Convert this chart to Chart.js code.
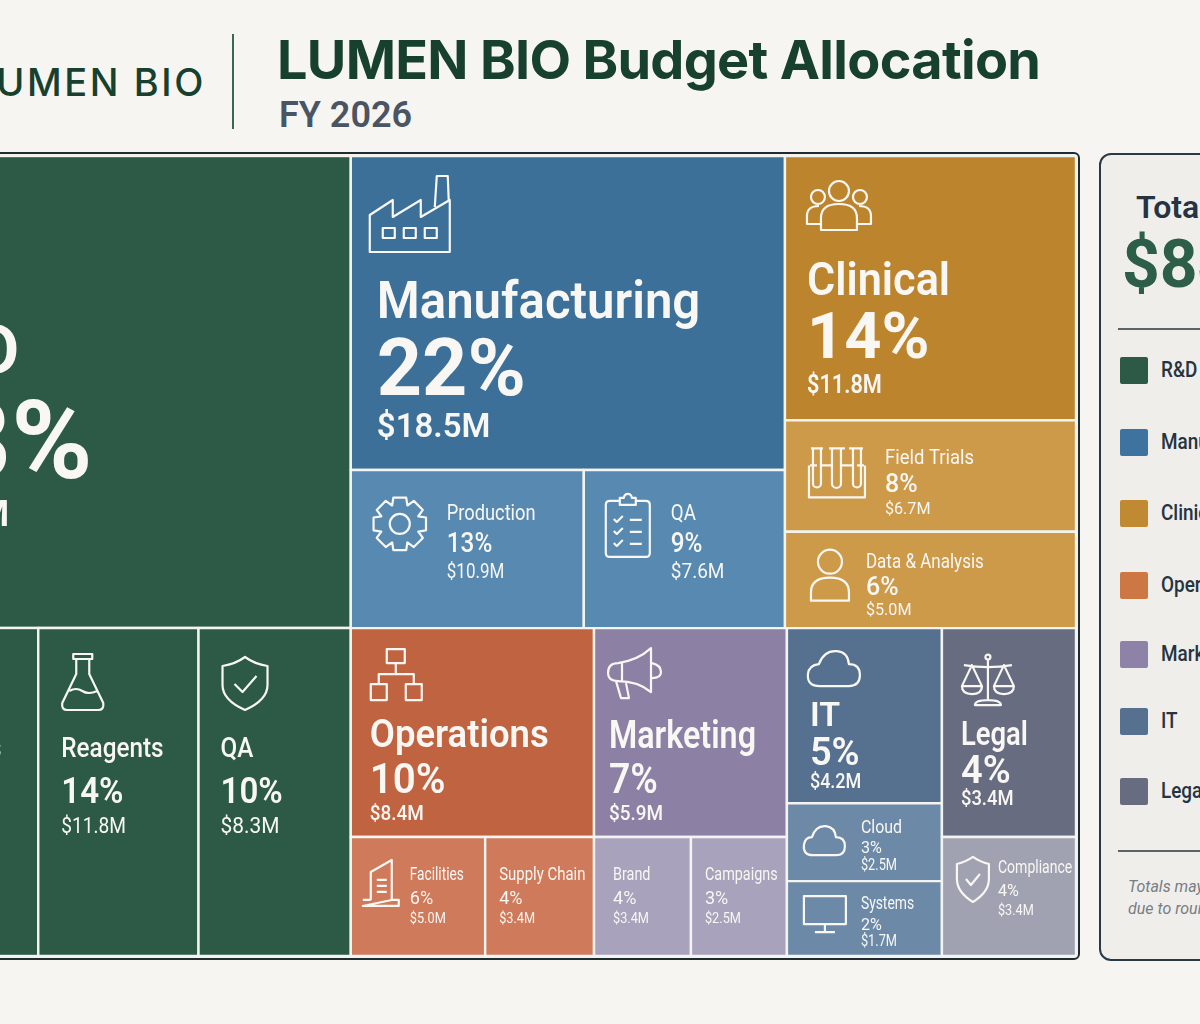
<!DOCTYPE html>
<html>
<head>
<meta charset="utf-8">
<title>LUMEN BIO Budget Allocation</title>
<script src="https://cdn.jsdelivr.net/npm/chart.js@4/dist/chart.umd.min.js"></script>
<style>
  html, body { margin: 0; padding: 0; width: 1200px; height: 1024px; overflow: hidden; background: #f7f5f2; font-family: Inter, sans-serif; }
  .abs { position: absolute; white-space: nowrap; }
  #logo { right: 994px; top: 58px; font: 500 38px/48px Inter; letter-spacing: 2.6px; color: #17402f; }
  #rule { left: 232px; top: 34px; width: 2px; height: 95px; background: #3e6657; }
  #title { left: 277px; top: 26px; font: 700 54px/68px Inter; letter-spacing: -0.7px; color: #17402f; }
  #sub { left: 279px; top: 92px; font: 600 36px/46px Roboto; color: #4a5563; }
  #frame { left: -130px; top: 152px; width: 1206px; height: 804px; border: 2.5px solid #1f2d33; border-radius: 6px; background: #f4f3ef; }
  #treemap { position: absolute; left: -122px; top: 156px; }
  #panel { left: 1099px; top: 153px; width: 300px; height: 804px; border: 2px solid #2a3a44; border-radius: 12px; background: #efeeeb; }
  #total { left: 1136px; top: 187px; font: 600 32px/40px Roboto; color: #263340; }
  #amount { left: 1122px; top: 227px; font: 700 66px/76px Roboto; color: #2d5e48; }
  .hr { left: 1118px; width: 200px; height: 1.5px; background: #59636a; }
  .swatch { left: 1120px; width: 28px; height: 27px; border-radius: 2px; }
  .key { left: 1161px; font: 500 22px/28px Roboto; color: #263340; transform: scaleX(0.86); transform-origin: left center; }
  .note { left: 1128px; font: italic 400 16px/20px Roboto; color: #777d85; }
</style>
</head>
<body>
<div class="abs" id="logo">LUMEN BIO</div>
<div class="abs" id="rule"></div>
<div class="abs" id="title">LUMEN BIO Budget Allocation</div>
<div class="abs" id="sub">FY 2026</div>
<div class="abs" id="frame"></div>
<canvas id="treemap" width="1198" height="800"></canvas>
<div class="abs" id="panel"></div>
<div class="abs" id="total">Total Budget</div>
<div class="abs" id="amount">$84M</div>
<div class="abs hr" style="top:328px"></div>
<div class="abs hr" style="top:850px"></div>
<div class="abs note" style="top:877px">Totals may not sum</div>
<div class="abs note" style="top:899px">due to rounding</div>
<script>
// budget data
const groupNames = ['R&D', 'Manufacturing', 'Clinical', 'Operations', 'Marketing', 'IT', 'Legal'];
const groupPct = [38, 22, 14, 10, 7, 5, 4];
const groupMillions = [31.9, 18.5, 11.8, 8.4, 5.9, 4.2, 3.4];

const rdNames = ['Biologics', 'Reagents', 'QA'];
const rdPct = [14, 14, 10];
const rdMillions = [11.8, 11.8, 8.3];
const mfgNames = ['Production', 'QA'];
const mfgPct = [13, 9];
const mfgMillions = [10.9, 7.6];
const clinicalNames = ['Field Trials', 'Data & Analysis'];
const clinicalPct = [8, 6];
const clinicalMillions = [6.7, 5.0];
const opsNames = ['Facilities', 'Supply Chain'];
const opsPct = [6, 4];
const opsMillions = [5.0, 3.4];
const mktNames = ['Brand', 'Campaigns'];
const mktPct = [4, 3];
const mktMillions = [3.4, 2.5];
const itNames = ['Cloud', 'Systems'];
const itPct = [3, 2];
const itMillions = [2.5, 1.7];
const legalNames = ['Compliance'];
const legalPct = [4];
const legalMillions = [3.4];

const childNames = [rdNames, mfgNames, clinicalNames, opsNames, mktNames, itNames, legalNames];
const childPct = [rdPct, mfgPct, clinicalPct, opsPct, mktPct, itPct, legalPct];
const childMillions = [rdMillions, mfgMillions, clinicalMillions, opsMillions, mktMillions, itMillions, legalMillions];

// colours
const headColors = ['#2c5a46', '#3c7099', '#bd842e', '#c06340', '#8d80a5', '#56718f', '#686c80'];
const childColors = ['#2c5a46', '#5889b0', '#cd9a4a', '#cf7a5a', '#a8a2bd', '#6c8aa7', '#a0a2b2'];
const keyColors = ['#2c5a46', '#3f739f', '#c08a33', '#cc7744', '#8f82a8', '#56718f', '#686c80'];
const keyTops = [357, 429, 500, 572, 641, 708, 778];

// treemap layout settings: how hard each split follows the values
const rootPower = 0.874, rowPower = 1.12, topRowPower = 0.885, bottomRowPower = 0.65;
const headShare = [0.59, 0.665, 0.56, 0.637, 0.637, 0.534, 0.637];
const childAxis = ['x', 'x', 'y', 'x', 'x', 'y', 'y'];
const childPower = [0.152, 0.4, 0.5, 0.52, 0.035, 0.097, 1];

function split(box, axis, values, power) {
  const w = values.map(v => Math.pow(v, power));
  const total = w.reduce((a, b) => a + b, 0);
  const length = axis === 'x' ? box.x1 - box.x0 : box.y1 - box.y0;
  let at = axis === 'x' ? box.x0 : box.y0;
  return w.map(v => {
    const size = length * v / total;
    const out = axis === 'x' ? {...box, x0: at, x1: at + size} : {...box, y0: at, y1: at + size};
    at += size;
    return out;
  });
}

function buildCells() {
  const sum = a => a.reduce((p, q) => p + q, 0);
  const [rdBox, restBox] = split({x0: 0, x1: 100, y0: 0, y1: 100}, 'x', [groupPct[0], sum(groupPct.slice(1))], rootPower);
  const [topBox, bottomBox] = split(restBox, 'y', [sum(groupPct.slice(1, 3)), sum(groupPct.slice(3))], rowPower);
  const boxes = [rdBox]
    .concat(split(topBox, 'x', groupPct.slice(1, 3), topRowPower))
    .concat(split(bottomBox, 'x', groupPct.slice(3), bottomRowPower));
  const cells = [];
  boxes.forEach((box, g) => {
    const cut = box.y0 + (box.y1 - box.y0) * headShare[g];
    cells.push({...box, y1: cut, name: groupNames[g], pct: groupPct[g], money: groupMillions[g], color: headColors[g], key: 'g' + g});
    split({...box, y0: cut}, childAxis[g], childPct[g], childPower[g]).forEach((b, i) => {
      cells.push({...b, name: childNames[g][i], pct: childPct[g][i], money: childMillions[g][i], color: childColors[g], key: 'c' + g + '_' + i});
    });
  });
  return cells;
}

// text placement per cell: text left, icon left/top, baselines, font sizes, weights, squeeze of each line
const S = {
  g0: {tx: 1, nudge: [5, 6, 3], ys: [218, 322, 370], fs: [70, 110, 37], w: [600, 700, 600], sq: [1, 1, 1]},
  g1: {tx: 26, ys: [162, 239, 281], fs: [52, 79, 33], w: [600, 700, 600], sq: [0.945, 1, 1], icon: 'factory', ix: 19, iy: 20},
  g2: {tx: 22, ys: [139, 202, 237], fs: [47, 65, 25], w: [600, 700, 600], sq: [0.92, 1, 0.87], icon: 'people', ix: 21, iy: 24},
  g3: {tx: 19, ys: [119, 165, 192], fs: [38, 42, 21], w: [600, 600, 500], sq: [0.96, 0.96, 0.9], icon: 'org', ix: 20, iy: 21},
  g4: {tx: 15, ys: [120, 165, 192], fs: [38, 42, 21], w: [600, 600, 500], sq: [0.85, 0.89, 0.9], icon: 'megaphone', ix: 14, iy: 20},
  g5: {tx: 23, ys: [98, 137, 160], fs: [34, 38, 20], w: [600, 600, 500], sq: [1, 1, 0.9], icon: 'cloud', ix: 20, iy: 22},
  g6: {tx: 19, ys: [117, 155, 177], fs: [33, 38, 20], w: [600, 600, 500], sq: [0.83, 1, 0.92], icon: 'scales', ix: 19, iy: 26},
  c0_0: {tx: 23, ys: [129, 175, 205], fs: [27, 36, 22], w: [500, 600, 400], sq: [0.9, 0.92, 0.87], icon: 'flask', ix: 23, iy: 26},
  c0_1: {tx: 23, ys: [129, 175, 205], fs: [27, 36, 22], w: [500, 600, 400], sq: [0.9, 0.92, 0.87], icon: 'flask', ix: 23, iy: 26},
  c0_2: {tx: 22, ys: [129, 175, 205], fs: [27, 36, 22], w: [500, 600, 400], sq: [0.9, 0.92, 0.95], icon: 'shield', ix: 24, iy: 29},
  c1_0: {tx: 96, ys: [50, 82, 108], fs: [22, 27, 20], w: [400, 500, 400], sq: [0.83, 0.9, 0.85], icon: 'gear', ix: 22, iy: 27},
  c1_1: {tx: 87, ys: [50, 82, 108], fs: [22, 27, 20], w: [400, 500, 400], sq: [0.85, 0.9, 0.95], icon: 'clipboard', ix: 22, iy: 23},
  c2_0: {tx: 100, ys: [44, 72, 94], fs: [21, 25, 17], w: [400, 500, 400], sq: [0.88, 1, 0.95], icon: 'tubes', ix: 24, iy: 27},
  c2_1: {tx: 81, ys: [36, 63, 83], fs: [21, 25, 17], w: [400, 500, 400], sq: [0.81, 1, 0.95], icon: 'person', ix: 25, iy: 18},
  c3_0: {tx: 59, ys: [43, 67, 86], fs: [18, 19, 15], w: [400, 400, 400], sq: [0.76, 0.95, 0.85], icon: 'building', ix: 12, iy: 23},
  c3_1: {tx: 14, ys: [43, 67, 86], fs: [18, 19, 15], w: [400, 400, 400], sq: [0.83, 0.95, 0.85]},
  c4_0: {tx: 19, ys: [43, 67, 86], fs: [18, 19, 15], w: [400, 400, 400], sq: [0.8, 0.95, 0.85]},
  c4_1: {tx: 14, ys: [43, 67, 86], fs: [18, 19, 15], w: [400, 400, 400], sq: [0.8, 0.95, 0.85]},
  c5_0: {tx: 74, ys: [30, 50, 67], fs: [19, 17, 16], w: [400, 400, 400], sq: [0.84, 0.95, 0.8], icon: 'cloudSmall', ix: 16, iy: 22},
  c5_1: {tx: 74, ys: [28, 49, 65], fs: [19, 17, 16], w: [400, 400, 400], sq: [0.73, 0.95, 0.8], icon: 'monitor', ix: 17, iy: 15},
  c6_0: {tx: 56, ys: [36, 59, 78], fs: [18, 17, 15], w: [400, 400, 400], sq: [0.78, 0.95, 0.85], icon: 'shieldSmall', ix: 15, iy: 20}
};

const ICONS = {
  factory: 'M0 76V39L23 24V41L51 24V41L80 24V76Z M65 31L67 0H78L79 26 M13 52h12v10h-12z M34 52h12v10h-12z M55 52h12v10h-12z',
  people: 'M43 11a10 10 0 1 1-20 0a10 10 0 1 1 20 0 M19 17a7 7 0 1 1-14 0a7 7 0 1 1 14 0 M61 17a7 7 0 1 1-14 0a7 7 0 1 1 14 0 M15 50V38Q15 24 33 24Q51 24 51 38V50Z M15 44H1V36Q1 26 13 26 M51 44H65V36Q65 26 53 26',
  org: 'M16 0h18v14h-18z M0 35h16v16h-16z M35 35h16v16h-16z M25 14V25 M8 35V25H43V35',
  megaphone: 'M43 0Q30 12 10 15Q0 15 0 25Q0 33 10 33Q30 33 43 44Z M14 15V33 M8 33L13 50H21L18 35 M44 15Q53 17 53 24Q53 30 44 30',
  cloud: 'M13 36Q0 36 1 24Q2 15 12 14Q17 0 30 1Q41 2 42 14Q53 14 53 25Q53 36 42 36Z',
  cloudSmall: 'M10 30Q0 30 1 20Q2 12 9 12Q13 0 23 1Q32 2 33 12Q42 12 42 21Q42 30 33 30Z',
  scales: 'M27 5V46 M14 51H40Q40 46 27 46Q14 46 14 51Z M3 11Q27 15 51 11 M29.5 3a2.5 2.5 0 1 1-5 0a2.5 2.5 0 1 1 5 0 M11 11L1 32Q1 40 11 40Q21 40 21 32Z M1 32H21 M43 11L33 32Q33 40 43 40Q53 40 53 32Z M33 32H53',
  flask: 'M12 0h19v5h-19z M15 5V20L1 49Q0 56 6 56H37Q43 56 42 49L28 20V5 M8 37Q15 33 21 37T36 37',
  shield: 'M22.5 0Q32 7 45 9V28Q45 43 22.5 53Q0 43 0 28V9Q13 7 22.5 0Z M12 27L20 35L34 19',
  shieldSmall: 'M16 0Q23 5 32 7V22Q32 35 16 45Q0 35 0 22V7Q9 5 16 0Z M9 22L14 28L23 17',
  clipboard: 'M14 8H4Q0 8 0 12V60Q0 64 4 64H40Q44 64 44 60V12Q44 8 40 8H30 M14 12V5H18A4 4 0 0 1 26 5H30V12Z M8 26l3 3l6-6 M24 27H36 M8 38l3 3l6-6 M24 39H36 M8 50l3 3l6-6 M24 51H36',
  tubes: 'M0 18V50H56V18 M1 18H8 M48 18H55 M2 1H14 M4 1V36A4 4 0 0 0 12 36V1 M20 1H36 M23 1V36A4 4 0 0 0 32 36V1 M40 1H54 M44 1V36A4 4 0 0 0 52 36V1 M12 18H23 M32 18H44',
  person: 'M32 12a12 12 0 1 1-24 0a12 12 0 1 1 24 0 M1 51V43Q1 28 20 28Q39 28 39 43V51Z',
  building: 'M8 40V12L29 0V40 M0 40H8 M29 40H36V46H0Z M14 20H24 M14 26H24 M14 32H24',
  monitor: 'M0 0H42V28H0Z M21 28V36 M11 36H31'
};

function drawGear(ctx, x, y) {
  // eight teeth around a ring
  const cx = x + 27, cy = y + 27;
  ctx.beginPath();
  for (let i = 0; i < 8; i++) {
    const a = i * Math.PI / 4 - Math.PI / 2;
    [[-0.39, 20], [-0.24, 27], [0.24, 27], [0.39, 20]].forEach(p => {
      ctx.lineTo(cx + Math.cos(a + p[0]) * p[1], cy + Math.sin(a + p[0]) * p[1]);
    });
  }
  ctx.closePath();
  ctx.stroke();
  ctx.beginPath();
  ctx.arc(cx, cy, 10, 0, Math.PI * 2);
  ctx.stroke();
}

const treemapPlugin = {
  id: 'treemapCells',
  beforeDatasetsDraw(chart) {
    const {ctx, scales: {x, y}} = chart;
    const cells = chart.data.datasets[0].data;
    ctx.save();
    cells.forEach(c => {
      const left = x.getPixelForValue(c.x0), right = x.getPixelForValue(c.x1);
      const top = y.getPixelForValue(c.y0), bottom = y.getPixelForValue(c.y1);
      ctx.fillStyle = c.color;
      ctx.fillRect(left, top, right - left, bottom - top);
      ctx.strokeStyle = '#f3f3ef';
      ctx.lineWidth = 2.4;
      ctx.strokeRect(left, top, right - left, bottom - top);

      const s = S[c.key];
      ctx.fillStyle = '#f8f7f3';
      ctx.textAlign = 'left';
      ctx.textBaseline = 'alphabetic';
      [c.name, c.pct + '%', '$' + c.money.toFixed(1) + 'M'].forEach((t, i) => {
        ctx.font = s.w[i] + ' ' + s.fs[i] + 'px Roboto';
        const nudge = s.nudge ? s.nudge[i] : 0;
        ctx.fillText(t, left + s.tx + nudge, top + s.ys[i], ctx.measureText(t).width * s.sq[i]);
      });
      if (s.icon) {
        ctx.strokeStyle = '#f8f7f3';
        ctx.lineWidth = 2.2;
        ctx.lineJoin = 'round';
        if (s.icon === 'gear') {
          drawGear(ctx, left + s.ix, top + s.iy);
        } else {
          ctx.save();
          ctx.translate(left + s.ix, top + s.iy);
          ctx.stroke(new Path2D(ICONS[s.icon]));
          ctx.restore();
        }
      }
    });
    ctx.restore();
  }
};

const cells = buildCells().map(c => ({...c, x: (c.x0 + c.x1) / 2, y: (c.y0 + c.y1) / 2}));

new Chart(document.getElementById('treemap').getContext('2d'), {
  type: 'scatter',
  data: {datasets: [{label: 'Budget share', data: cells, pointRadius: 0, pointHoverRadius: 0}]},
  options: {
    responsive: false,
    animation: false,
    devicePixelRatio: 1,
    layout: {padding: 0},
    plugins: {legend: {display: false}, tooltip: {enabled: false}},
    scales: {
      x: {type: 'linear', min: 0, max: 100, display: false},
      y: {type: 'linear', min: 0, max: 100, reverse: true, display: false}
    }
  },
  plugins: [treemapPlugin]
});

// side panel legend
groupNames.forEach((name, i) => {
  const sw = document.createElement('div');
  sw.className = 'abs swatch';
  sw.style.top = keyTops[i] + 'px';
  sw.style.background = keyColors[i];
  document.body.appendChild(sw);
  const key = document.createElement('div');
  key.className = 'abs key';
  key.style.top = (keyTops[i] - 1) + 'px';
  key.textContent = name;
  document.body.appendChild(key);
});
</script>
</body>
</html>
